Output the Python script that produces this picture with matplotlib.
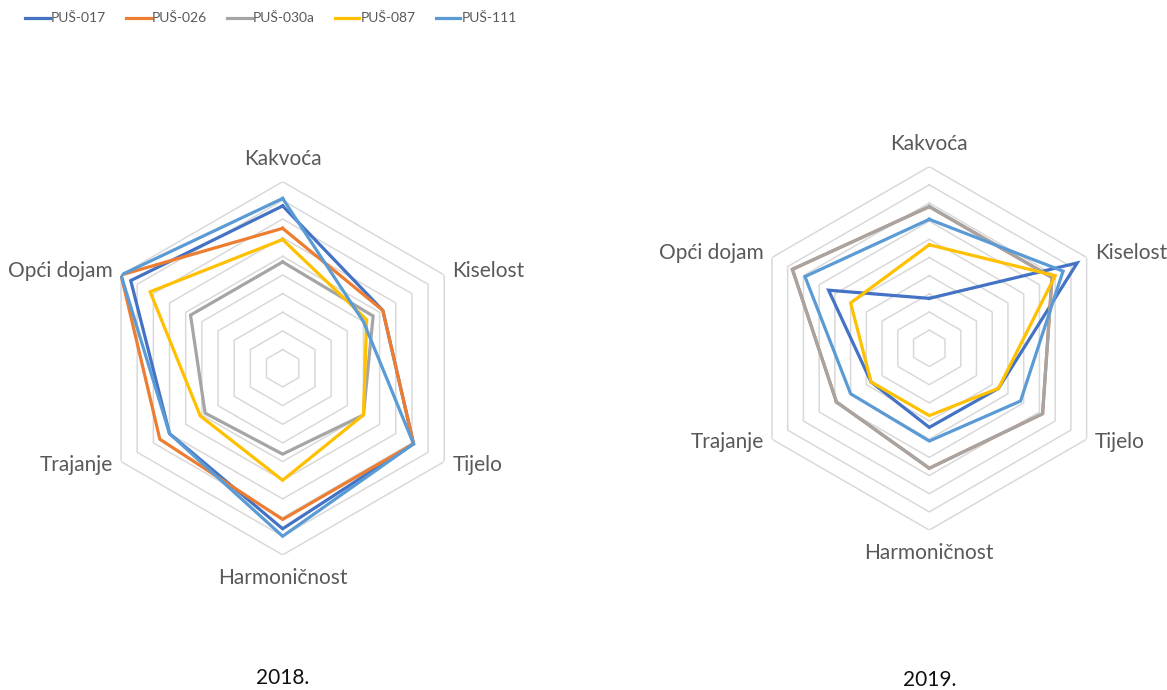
import matplotlib.pyplot as plt
import numpy as np
from matplotlib.lines import Line2D

plt.rcParams['font.family'] = ['Lato', 'DejaVu Sans']

# kategorije (u smjeru kazaljke, od vrha)
categories = ['Kakvoća', 'Kiselost', 'Tijelo', 'Harmoničnost', 'Trajanje', 'Opći dojam']
series_names = ['PUŠ-017', 'PUŠ-026', 'PUŠ-030a', 'PUŠ-087', 'PUŠ-111']
colors = ['#4472C4', '#ED7D31', '#A5A5A5', '#FFC000', '#5B9BD5']

# 2018.
v2018_017 = [8.7, 6.2, 8.1, 8.6, 7.0, 9.4]
v2018_026 = [7.5, 6.2, 8.1, 8.1, 7.6, 10.0]
v2018_030a = [5.7, 5.6, 5.0, 4.6, 4.8, 5.7]
v2018_087 = [6.9, 5.2, 5.0, 6.0, 5.1, 8.2]
v2018_111 = [9.1, 5.0, 8.1, 9.0, 7.0, 10.0]

# 2019.
v2019_017 = [2.75, 9.4, 4.4, 4.35, 3.7, 6.4]
v2019_026 = [7.8, 7.8, 7.2, 6.6, 5.9, 8.7]
v2019_030a = [7.8, 7.8, 7.2, 6.6, 5.9, 8.7]
v2019_087 = [5.7, 8.0, 4.4, 3.7, 3.7, 5.0]
v2019_111 = [7.1, 8.5, 5.8, 5.1, 5.0, 7.9]

data2018 = [v2018_017, v2018_026, v2018_030a, v2018_087, v2018_111]
data2019 = [v2019_017, v2019_026, v2019_030a, v2019_087, v2019_111]

rmax = 10
theta = np.deg2rad(np.arange(len(categories)) * 360 / len(categories))
theta_c = np.append(theta, theta[0])

fig = plt.figure(figsize=(11.67, 6.9), dpi=100)


def radar(rect, data, year, year_y):
    ax = fig.add_axes(rect, projection='polar')
    ax.set_theta_zero_location('N')
    ax.set_theta_direction(-1)
    ax.set_ylim(0, rmax)
    ax.grid(False)
    ax.spines['polar'].set_visible(False)
    ax.set_xticks([])
    ax.set_yticks([])
    ax.patch.set_alpha(0)

    # sesterokutna mreza
    for k in range(1, rmax + 1):
        ax.plot(theta_c, [k] * len(theta_c), color='#d9d9d9', lw=1.1, zorder=1)

    for vals, col in zip(data, colors):
        ax.plot(theta_c, vals + vals[:1], color=col, lw=2.3, zorder=3,
                solid_joinstyle='miter')

    # oznake kategorija
    pad = 8
    for t, lab in zip(theta, categories):
        dx = np.sin(t)
        dy = np.cos(t)
        if abs(dx) < 1e-6:
            ha = 'center'
            off = (0, 23 * np.sign(dy))
        else:
            ha = 'left' if dx > 0 else 'right'
            off = (pad * np.sign(dx), 4 if dy > 0 else -3)
        ax.annotate(lab, xy=(t, rmax), xytext=off, textcoords='offset pixels',
                    ha=ha, va='center', fontsize=15, color='#595959')

    cx = rect[0] + rect[2] / 2
    fig.text(cx, year_y, year, ha='center', va='center', fontsize=15, color='#111111')
    return ax


radar([0.0823, 0.1958, 0.3198, 0.5409], data2018, '2018.', 1 - 678 / 690)
radar([0.6406, 0.2318, 0.3114, 0.5267], data2019, '2019.', 1 - 680 / 690)

handles = [Line2D([], [], color=c, lw=2.3) for c in colors]
fig.legend(handles, series_names, loc='upper left', bbox_to_anchor=(0.011, 1.0),
           ncol=5, frameon=False, fontsize=10, handlelength=1.75, handletextpad=0.1,
           columnspacing=1.45, labelcolor='#595959')

fig.savefig('out.png', dpi=100)
